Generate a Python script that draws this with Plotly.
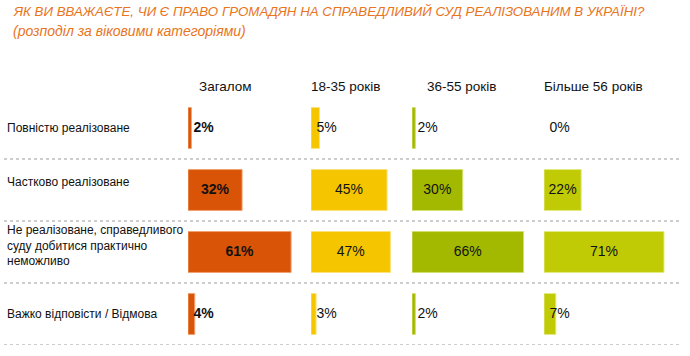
import plotly.graph_objects as go

W, H = 690, 356

# ---------------- data ----------------
categories = [
    "Повністю реалізоване",
    "Частково реалізоване",
    "Не реалізоване, справедливого суду добитися практично неможливо",
    "Важко відповісти / Відмова",
]
row_labels = [
    "Повністю реалізоване",
    "Частково реалізоване",
    "Не реалізоване, справедливого<br>суду добитися практично<br>неможливо",
    "Важко відповісти / Відмова",
]
groups = ["Загалом", "18-35 років", "36-55 років", "Більше 56 років"]
total = [2, 32, 61, 4]
age_18_35 = [5, 45, 47, 3]
age_36_55 = [2, 30, 66, 2]
age_56_plus = [0, 22, 71, 7]
series = [total, age_18_35, age_36_55, age_56_plus]

# ---------------- style ----------------
colors = ["#D95407", "#F5C500", "#A3B900", "#C0CB05"]
edge = ["#F2A070", "#FBE27A", "#D3E070", "#E2EA80"]
panel_left_px = [188, 311, 412, 544]
panel_width_px = [118, 98, 127, 127]
header_x_px = [225, 345, 461, 593]
px_per_pct = 1.69
FONT = "Liberation Sans, Arial, sans-serif"
ORANGE = "#E8741C"

y_top_px, y_bot_px = 97, 345

fig = go.Figure()
layout_axes = {}
for i, (vals, col) in enumerate(zip(series, colors)):
    ax = "x" if i == 0 else f"x{i+1}"
    axkey = "xaxis" if i == 0 else f"xaxis{i+1}"
    fig.add_trace(go.Bar(
        x=vals, y=categories, orientation="h", xaxis=ax, yaxis="y",
        marker=dict(color=col, line=dict(color=edge[i], width=[1 if v > 0 else 0 for v in vals])),
        width=0.66, hoverinfo="skip", showlegend=False,
    ))
    txt = [f"<b>{v}%</b>" if i == 0 else f"{v}%" for v in vals]
    fig.add_trace(go.Scatter(
        x=[max(v / 2, 9.2) for v in vals], y=categories, mode="text",
        text=txt, textposition="middle center",
        textfont=dict(family=FONT, size=14, color="#111111"),
        xaxis=ax, yaxis="y", hoverinfo="skip", showlegend=False,
    ))
    d0 = panel_left_px[i] / W
    d1 = (panel_left_px[i] + panel_width_px[i]) / W
    layout_axes[axkey] = dict(
        domain=[d0, d1], range=[0, panel_width_px[i] / px_per_pct],
        visible=False, fixedrange=True, anchor="y",
    )

annotations = [
    dict(text="ЯК ВИ ВВАЖАЄТЕ, ЧИ Є ПРАВО ГРОМАДЯН НА СПРАВЕДЛИВИЙ СУД РЕАЛІЗОВАНИМ В УКРАЇНІ?",
         xref="paper", yref="paper", x=11 / W, y=1 - 11 / H, xanchor="left", yanchor="middle",
         showarrow=False, font=dict(family=FONT, size=13.3, color=ORANGE, style="italic")),
    dict(text="(розподіл за віковими категоріями)",
         xref="paper", yref="paper", x=11 / W, y=1 - 31 / H, xanchor="left", yanchor="middle",
         showarrow=False, font=dict(family=FONT, size=14, color=ORANGE, style="italic")),
]
for g, hx in zip(groups, header_x_px):
    annotations.append(dict(text=g, xref="paper", yref="paper", x=hx / W, y=1 - 86 / H,
                            xanchor="center", yanchor="middle", showarrow=False,
                            font=dict(family=FONT, size=13.5, color="#111111")))
label_shift = [0, 8, 7, 0]
for cat, lab, sh in zip(categories, row_labels, label_shift):
    annotations.append(dict(text=lab, xref="paper", yref="y", x=5 / W, y=cat,
                            xanchor="left", yanchor="middle", align="left", showarrow=False,
                            yshift=sh, font=dict(family=FONT, size=12, color="#111111")))

shapes = []
for k in range(len(categories)):
    shapes.append(dict(type="line", xref="paper", yref="y", x0=4 / W, x1=680 / W,
                       y0=k + 0.5, y1=k + 0.5,
                       line=dict(color="#BDBDBD", width=1.5, dash="dot")))

fig.update_layout(
    width=W, height=H,
    margin=dict(l=0, r=0, t=0, b=0),
    paper_bgcolor="white", plot_bgcolor="white",
    barmode="overlay",
    yaxis=dict(domain=[1 - y_bot_px / H, 1 - y_top_px / H], categoryorder="array",
               categoryarray=categories, autorange=False, range=[3.5, -0.5],
               visible=False, fixedrange=True),
    annotations=annotations, shapes=shapes,
    font=dict(family=FONT),
    **layout_axes,
)

fig.write_html("out.html", config={"displayModeBar": False},
               post_script="document.body.style.margin='0';")
